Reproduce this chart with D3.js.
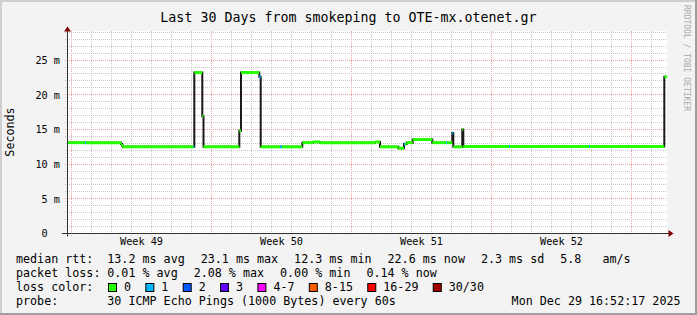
<!DOCTYPE html>
<html>
<head>
<meta charset="utf-8">
<script src="https://cdn.jsdelivr.net/npm/d3@7"></script>
<style>
html, body { margin: 0; padding: 0; background: #f3f3f3; }
svg { display: block; }
text { font-family: "DejaVu Sans Mono", monospace; white-space: pre; fill: #000; }
</style>
</head>
<body>
<svg id="chart" width="697" height="315"></svg>
<script>
// median rtt: step starts (days after graph start), value in ms, lost pings
var rttDays   = [0, 0.9, 0.95, 2.7, 2.75, 2.8, 6.325, 6.365, 6.765, 6.825, 8.615, 8.7, 9.615, 9.685,
                 10.665, 10.75, 11.765, 12.3, 12.65, 15.4, 15.65, 16.565, 16.85, 16.9, 16.985, 17.285,
                 18.265, 18.95, 19.0, 19.265, 19.315, 19.765, 19.815, 22.1, 22.15, 26.1, 26.15, 29.865];
var rttValues = [13.1, 13.1, 13.1, 12.9, 12.7, 12.5, 12.5, 23.2, 16.9, 12.5, 14.8, 23.2, 22.6, 12.5,
                 12.5, 12.5, 13.1, 13.2, 13.1, 13.2, 12.5, 12.3, 12.9, 12.9, 13.1, 13.55,
                 13.1, 13.1, 13.1, 14.5, 12.5, 15.0, 12.55, 12.55, 12.55, 12.55, 12.55, 22.6];
var rttLoss   = [0, 1, 0, 0, 0, 0, 1, 0, 0, 0, 0, 0, 1, 0,
                 1, 0, 0, 0, 0, 0, 0, 0, 1, 0, 0, 0,
                 0, 1, 0, 1, 0, 0, 0, 1, 0, 1, 0, 0];

var graphStart = Date.UTC(2025, 10, 30, 19, 12);
var graphDays = 30;
var yTicks = [0, 5, 10, 15, 20, 25];
var yMax = 29.2;

var titleText = "Last 30 Days from smokeping to OTE-mx.otenet.gr";
var rttStats = ["13.2 ms avg", "23.1 ms max", "12.3 ms min", "22.6 ms now", "2.3 ms sd", "5.8   am/s"];
var lossStats = ["0.01 % avg", "2.08 % max", "0.00 % min", "0.14 % now"];
var lossLabels = ["0", "1", "2", "3", "4-7", "8-15", "16-29", "30/30"];
var lossColors = ["#26ff00", "#00b8ff", "#0059ff", "#5e00ff", "#ff00ff", "#ff5e00", "#ff0000", "#a10000"];
var probeText = "30 ICMP Echo Pings (1000 Bytes) every 60s";
var stampText = "Mon Dec 29 16:52:17 2025";

var W = 697, H = 315;
var gLeft = 67, gRight = 667, gTop = 31, gBottom = 233.5;

var svg = d3.select("#chart");

// frame
svg.append("rect").attr("width", W).attr("height", H).attr("fill", "#f3f3f3");
svg.append("path").attr("d", "M0,1H" + W + "M1,0V" + H).attr("stroke", "#cfcfcf").attr("stroke-width", 2);
svg.append("path").attr("d", "M0," + (H - 1) + "H" + W + "M" + (W - 1) + ",0V" + H).attr("stroke", "#9e9e9e").attr("stroke-width", 2);

var x = d3.scaleUtc()
    .domain([new Date(graphStart), new Date(graphStart + graphDays * 864e5)])
    .range([gLeft, gRight]);
var y = d3.scaleLinear().domain([0, yMax]).range([gBottom, gTop]);

function dayToDate(d) { return new Date(graphStart + d * 864e5); }

svg.append("rect")
    .attr("x", gLeft).attr("y", gTop)
    .attr("width", gRight - gLeft).attr("height", gBottom - gTop)
    .attr("fill", "#fff");

// grid
var grid = svg.append("g").attr("stroke-dasharray", "1,1").attr("stroke-width", 1);
var days = d3.utcDay.range(x.domain()[0], x.domain()[1]);
days.forEach(function (d) {
    var px = Math.floor(x(d)) + 0.5;
    var major = d.getUTCDay() == 1;
    grid.append("line")
        .attr("x1", px).attr("x2", px).attr("y1", gTop).attr("y2", gBottom + 2)
        .attr("stroke", major ? "#eaa0a0" : "#c8c8c8");
});
d3.range(1, Math.floor(yMax) + 1).forEach(function (v) {
    var py = Math.floor(y(v)) + 0.5;
    grid.append("line")
        .attr("x1", gLeft - 2).attr("x2", gRight).attr("y1", py).attr("y2", py)
        .attr("stroke", v % 5 == 0 ? "#eaa0a0" : "#c8c8c8");
});

// median line: black steps, then coloured horizontal pieces
var pts = rttDays.map(function (d, i) { return [dayToDate(d), rttValues[i]]; });
pts.push([dayToDate(graphDays), rttValues[rttValues.length - 1]]);

svg.append("path")
    .datum(pts)
    .attr("fill", "none")
    .attr("stroke", "#1a1a1a")
    .attr("stroke-width", 2)
    .attr("d", d3.line()
        .x(function (d) { return x(d[0]); })
        .y(function (d) { return y(d[1]); })
        .curve(d3.curveStepAfter));

svg.append("g").selectAll("line")
    .data(rttDays)
    .enter().append("line")
    .attr("x1", function (d) { return x(dayToDate(d)); })
    .attr("x2", function (d, i) { return x(dayToDate(i + 1 < rttDays.length ? rttDays[i + 1] : graphDays)); })
    .attr("y1", function (d, i) { return y(rttValues[i]); })
    .attr("y2", function (d, i) { return y(rttValues[i]); })
    .attr("stroke", function (d, i) { return lossColors[rttLoss[i]]; })
    .attr("stroke-width", 3);

// axes
svg.append("line").attr("x1", gLeft - 5).attr("x2", gRight + 2).attr("y1", 233.5).attr("y2", 233.5)
    .attr("stroke", "#333");
svg.append("line").attr("x1", gLeft + 0.5).attr("x2", gLeft + 0.5).attr("y1", gBottom + 3).attr("y2", gTop - 1)
    .attr("stroke", "#333");
svg.append("path").attr("d", "M67.5,26.5L71,31.5L64,31.5Z").attr("fill", "#7f0000");
svg.append("path").attr("d", "M673.5,233.5L668.5,230L668.5,237Z").attr("fill", "#7f0000");

var yAxis = svg.append("g")
    .attr("transform", "translate(" + gLeft + ",0)")
    .call(d3.axisLeft(y).tickValues(yTicks).tickSize(0).tickPadding(7)
        .tickFormat(function (d) { return d == 0 ? "0  " : d + " m"; }));
yAxis.select(".domain").remove();
yAxis.selectAll("text").attr("font-family", "DejaVu Sans Mono").attr("font-size", 10.2).attr("fill", "#000");

var weekMid = d3.utcMonday.range(d3.utcMonday.floor(x.domain()[0]), x.domain()[1])
    .map(function (d) { return new Date(+d + 3.5 * 864e5); })
    .filter(function (d) { return x(d) > gLeft + 20 && x(d) < gRight - 20; });
var weekFmt = d3.utcFormat("%V");
var xAxis = svg.append("g")
    .attr("transform", "translate(0," + gBottom + ")")
    .call(d3.axisBottom(x).tickValues(weekMid).tickSize(0).tickPadding(4)
        .tickFormat(function (d) { return "Week " + weekFmt(new Date(+d - 3.5 * 864e5)); }));
xAxis.select(".domain").remove();
xAxis.selectAll("text").attr("font-family", "DejaVu Sans Mono").attr("font-size", 10.2).attr("fill", "#000");

// title and side texts
svg.append("text").attr("x", 348.5).attr("y", 21.7).attr("text-anchor", "middle")
    .attr("font-size", 13.3).text(titleText);
svg.append("text").attr("transform", "translate(14,132) rotate(-90)").attr("text-anchor", "middle")
    .attr("font-size", 11.7).text("Seconds");
svg.append("text").attr("transform", "translate(684,5) rotate(90)")
    .attr("font-size", 8).style("fill", "#aaa").text("RRDTOOL / TOBI OETIKER");

// legend
var legendX = 16, valueX = 107.3, gap = 16;
function row(label, baseline) {
    svg.append("text").attr("x", legendX).attr("y", baseline).attr("font-size", 11.7).text(label);
}
function pieces(list, baseline) {
    var cx = valueX;
    list.forEach(function (s) {
        var t = svg.append("text").attr("x", cx).attr("y", baseline).attr("font-size", 11.7).text(s);
        cx += t.node().getComputedTextLength() + gap;
    });
}
row("median rtt:", 263);
pieces(rttStats, 263);
row("packet loss:", 277);
pieces(lossStats, 277);
row("loss color:", 291);
var bx = 108.5;
lossLabels.forEach(function (s, i) {
    svg.append("rect").attr("x", bx).attr("y", 283.5).attr("width", 8).attr("height", 8)
        .attr("fill", lossColors[i]).attr("stroke", "#000");
    var t = svg.append("text").attr("x", bx + 15.5).attr("y", 291).attr("font-size", 11.7).text(s);
    bx += 15.5 + t.node().getComputedTextLength() + 14.8;
});
row("probe:", 305);
svg.append("text").attr("x", valueX).attr("y", 305).attr("font-size", 11.7).text(probeText);
svg.append("text").attr("x", 680.5).attr("y", 305).attr("text-anchor", "end").attr("font-size", 11.7).text(stampText);
</script>
</body>
</html>
